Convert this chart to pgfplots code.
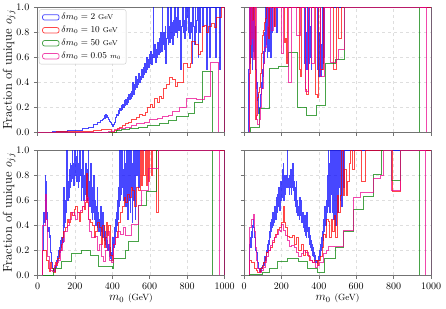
\documentclass[border=0pt]{standalone}
\usepackage{pgfplots}
\pgfplotsset{compat=1.18}
\definecolor{mgreen}{rgb}{0,0.5,0}
\definecolor{spine}{gray}{0.45}
\pgfplotsset{
  panel/.style={
    scale only axis, width=187pt, height=124.5pt,
    xmin=0, xmax=1000, ymin=0, ymax=1,
    xtick={0,200,400,600,800,1000}, ytick={0,0.2,0.4,0.6,0.8,1},
    tick align=outside, tick pos=left, major tick length=3.5pt,
    grid=major, grid style={dashed, black!13, line width=0.4pt},
    axis line style={spine, line width=0.8pt},
    every tick/.style={spine, line width=0.6pt},
    tick label style={font=\fontsize{10}{12}\selectfont},
    xticklabel style={yshift=-1.2pt,/pgf/number format/.cd, 1000 sep={}},
    yticklabel style={xshift=-1.2pt,/pgf/number format/.cd, fixed, fixed zerofill, precision=1},
    every axis y label/.style={at={(axis description cs:-0.152,0.5)}, rotate=90, anchor=center, font=\fontsize{12.8}{15}\selectfont},
    every axis x label/.style={at={(axis description cs:0.5,-0.19)}, anchor=center, font=\fontsize{12}{14}\selectfont},
  },
  cb/.style={const plot mark left, no marks, color=blue, opacity=0.72, line width=0.75pt},
  cr/.style={const plot mark left, no marks, color=red, opacity=0.72, line width=0.75pt},
  cg/.style={const plot mark left, no marks, color=mgreen, opacity=0.72, line width=0.75pt},
  cm/.style={const plot mark left, no marks, color=magenta, opacity=0.72, line width=0.75pt},
}
\newcommand{\ylab}{Fraction of unique $o_{jj}$}
\newcommand{\xlab}{$m_0$ {\fontsize{9}{10}\selectfont (GeV)}}
\begin{document}
\begin{tikzpicture}
\useasboundingbox (0,0) rectangle (446pt,308pt);
% ---------------- top left ----------------
\begin{axis}[panel, at={(37.5pt,176pt)}, anchor=south west, xticklabels={}, ylabel={\ylab},
  legend cell align=left,
  legend image code/.code={\draw[#1, fill=white] (0pt,-2.6pt) rectangle (16.5pt,2.8pt);},
  legend style={at={(axis description cs:0.008,0.985)}, anchor=north west, draw=black!22, rounded corners=2pt,
    fill=white, fill opacity=0.85, text opacity=1, font=\fontsize{9}{10}\selectfont, row sep=1.2pt,
    inner xsep=3pt, inner ysep=2pt}]
\addplot[cb] coordinates {(0,0)(40,0.001)(80,0.003)(120,0.006)(160,0.01)(200,0.017)(240,0.027)(270,0.04)(300,0.058)(320,0.075)(335,0.09)(345,0.1)(350,0.11)(355,0.12)(358,0.13)(361,0.11)(364,0.14)(367,0.12)(370,0.13)(374,0.115)(378,0.105)(382,0.095)(386,0.085)(390,0.075)(394,0.065)(398,0.055)(402,0.048)(406,0.06)(410,0.08)(414,0.1)(418,0.12)(422,0.14)(426,0.13)(430,0.17)(434,0.15)(438,0.19)(442,0.17)(446,0.21)(450,0.18)(454,0.22)(458,0.2)(462,0.25)(466,0.21)(470,0.26)(474,0.22)(478,0.28)(482,0.24)(486,0.3)(490,0.26)(494,0.31)(498,0.27)(502,0.33)(506,0.29)(510,0.4)(514,0.3)(518,0.38)(522,0.34)(526,0.45)(530,0.36)(534,0.42)(538,0.38)(542,0.47)(546,0.4)(550,0.45)(554,0.42)(558,0.5)(562,0.44)(566,0.52)(570,0.46)(574,0.55)(578,0.48)(582,0.6)(586,0.5)(590,0.58)(594,0.52)(598,0.62)(602,0.55)(606,0.65)(610,0.54)(614,0.62)(618,1.0)(622,0.6)(626,0.7)(630,0.56)(634,0.66)(638,0.6)(642,0.72)(646,0.62)(650,0.75)(654,0.64)(658,0.8)(662,0.65)(666,1.0)(670,0.7)(674,0.8)(678,0.66)(682,0.85)(686,0.55)(690,0.75)(694,1.0)(698,0.7)(702,0.85)(706,0.72)(710,1.0)(714,0.75)(718,0.88)(722,0.7)(726,0.9)(730,0.78)(734,1.0)(738,0.8)(742,0.92)(746,0.76)(750,1.0)(754,0.82)(758,0.9)(762,0.72)(766,0.5)(770,0.85)(774,1.0)(778,0.8)(782,0.9)(786,0.75)(790,1.0)(794,0.82)(798,0.92)(802,1.0)(806,0.8)(810,1.0)(814,0.75)(818,0.88)(822,0.8)(826,0.55)(830,1.0)(834,0.85)(838,0.7)(842,1.0)(846,0.8)(850,0.9)(854,1.0)(858,0.6)(862,1.0)(866,0.8)(870,1.0)(880,0.85)(885,1.0)(905,0.5)(910,1.0)(918,0.6)(922,1.0)(950,0.6)(955,1.0)(975,0.5)(978,1.0)(1000,0)};
\addlegendentry{$\delta m_0 = 2$ {\fontsize{7}{8}\selectfont GeV}}
\addplot[cr] coordinates {(0,0)(100,0.002)(200,0.006)(300,0.012)(340,0.02)(370,0.025)(395,0.0)(410,0.01)(425,0.03)(440,0.04)(455,0.05)(470,0.07)(485,0.08)(500,0.1)(515,0.1)(530,0.12)(545,0.14)(560,0.13)(575,0.16)(590,0.2)(605,0.22)(615,0.2)(625,0.27)(640,0.24)(650,0.29)(665,0.27)(675,0.35)(690,0.38)(705,0.44)(720,0.42)(735,0.37)(750,0.4)(765,0.4)(780,0.55)(800,0.52)(815,0.55)(825,0.73)(845,0.7)(858,0.62)(870,0.65)(880,0.85)(895,0.86)(905,0.8)(915,0.85)(930,0.87)(945,0.84)(955,0.92)(985,1.0)(1000,0)};
\addlegendentry{$\delta m_0 = 10$ {\fontsize{7}{8}\selectfont GeV}}
\addplot[cg] coordinates {(0,0)(400,0.0)(420,0.01)(450,0.02)(490,0.03)(540,0.04)(590,0.05)(650,0.07)(700,0.09)(743,0.128)(805,0.15)(839,0.235)(884,0.49)(937,0)};
\addlegendentry{$\delta m_0 = 50$ {\fontsize{7}{8}\selectfont GeV}}
\addplot[cm] coordinates {(0,0)(380,0.005)(410,0.02)(440,0.03)(470,0.04)(500,0.05)(530,0.07)(570,0.08)(600,0.1)(640,0.11)(670,0.125)(700,0.13)(722,0.165)(758,0.2)(794,0.27)(848,0.26)(892,0.29)(922,0.56)(968,0)};
\addlegendentry{$\delta m_0 = 0.05$ {\fontsize{7}{8}\selectfont $m_0$}}
\end{axis}
% ---------------- top right ----------------
\begin{axis}[panel, at={(244pt,176pt)}, anchor=south west, xticklabels={}, yticklabels={}]
\addplot[cb] coordinates {(25,0)(25,0.5)(28,1.0)(31,0.55)(34,1.0)(37,0.6)(40,1.0)(43,0.5)(46,0.9)(49,0.65)(52,1.0)(55,0.6)(58,0.85)(61,0.5)(64,0.35)(67,0.4)(70,0.25)(73,0.3)(76,0.2)(79,0.15)(82,0.2)(85,0.25)(88,0.3)(91,0.4)(94,0.35)(97,0.5)(100,0.45)(103,0.65)(106,0.55)(109,0.8)(112,0.65)(115,1.0)(118,0.7)(121,0.9)(124,0.6)(127,1.0)(130,0.65)(133,1.0)(136,0.75)(139,1.0)(142,0.6)(145,1.0)(148,0.8)(151,1.0)(160,0.85)(163,1.0)(175,0.8)(178,1.0)(322,0.55)(325,1.0)(328,0.5)(331,0.8)(334,0.6)(337,1.0)(340,0.5)(343,0.9)(346,0.55)(349,1.0)(352,0.6)(355,0.85)(358,0.5)(361,1.0)(392,0.5)(395,1.0)(398,0.45)(401,0.8)(404,0.5)(407,1.0)(410,0.45)(413,0.7)(416,0.5)(419,1.0)(422,0.55)(425,1.0)(428,0.6)(431,1.0)(1000,0)};
\addplot[cr] coordinates {(28,0)(28,0.47)(33,1.0)(45,0.9)(50,1.0)(62,0.1)(68,0.13)(72,0.28)(78,0.32)(82,0.36)(87,0.47)(92,0.63)(97,0.78)(102,0.82)(108,0.88)(114,0.91)(120,1.0)(130,0.75)(135,1.0)(160,0.85)(166,1.0)(215,0.72)(222,0.75)(228,0.55)(234,1.0)(296,0.5)(302,0.45)(308,1.0)(326,0.34)(335,0.3)(344,1.0)(380,0.3)(390,0.28)(397,1.0)(406,0.5)(424,1.0)(478,0.5)(492,1.0)(504,0.75)(522,1.0)(1000,0)};
\addplot[cg] coordinates {(32,0)(32,0.04)(82,0.19)(135,0.51)(184,0.53)(237,0.64)(285,0.2)(335,0.13)(389,0.21)(433,0.55)(487,0.58)(535,1.0)(939,0)};
\addplot[cm] coordinates {(28,0)(28,1.0)(36,0.7)(40,1.0)(44,0.75)(48,0.9)(52,0.58)(58,1.0)(64,0.55)(68,0.1)(72,0.06)(80,0.1)(88,0.2)(95,0.35)(103,0.55)(110,0.68)(118,0.78)(125,0.85)(132,1.0)(148,0.82)(157,1.0)(200,0.63)(212,1.0)(237,0.4)(255,1.0)(282,0.78)(300,1.0)(326,0.33)(344,1.0)(360,0.55)(375,1.0)(410,0.45)(430,1.0)(460,0.56)(495,0.58)(504,0.66)(535,1.0)(974,0)};
\end{axis}
% ---------------- bottom left ----------------
\begin{axis}[panel, at={(37.5pt,33pt)}, anchor=south west, ylabel={\ylab}, xlabel={\xlab}]
\addplot[cb] coordinates {(28,0)(28,0.2)(31,0.45)(34,0.5)(37,0.42)(40,0.8)(43,0.5)(46,0.75)(49,0.45)(52,0.5)(55,0.35)(58,0.38)(61,0.3)(64,0.32)(67,0.25)(70,0.18)(73,0.12)(76,0.1)(79,0.07)(82,0.05)(85,0.04)(88,0.06)(91,0.03)(94,0.08)(97,0.06)(100,0.12)(103,0.09)(106,0.15)(109,0.12)(112,0.2)(115,0.15)(118,0.22)(121,0.18)(124,0.28)(127,0.22)(130,0.3)(133,0.26)(136,0.4)(139,0.7)(142,0.38)(145,0.55)(148,0.42)(151,0.6)(154,0.5)(157,1.0)(160,0.6)(163,0.75)(166,0.62)(169,0.85)(172,0.7)(175,0.9)(178,0.75)(181,0.88)(184,1.0)(187,0.78)(190,0.9)(193,0.72)(196,0.85)(199,1.0)(202,0.8)(205,0.95)(208,0.75)(211,1.0)(214,0.82)(217,0.7)(220,0.9)(223,0.75)(226,1.0)(229,0.8)(232,0.6)(235,0.85)(238,0.7)(241,1.0)(244,0.75)(247,0.6)(250,0.8)(253,0.65)(256,0.9)(259,0.72)(262,0.6)(265,0.85)(268,0.7)(271,1.0)(274,0.6)(277,0.75)(280,0.55)(283,0.9)(286,0.5)(289,0.7)(292,0.45)(295,0.65)(298,0.5)(301,0.8)(304,0.45)(307,0.6)(310,0.4)(313,0.55)(316,0.4)(319,0.7)(322,0.38)(325,0.5)(328,0.35)(331,0.45)(334,0.32)(337,0.55)(340,0.35)(343,0.42)(346,0.3)(349,0.5)(352,0.3)(355,0.4)(358,0.28)(361,0.35)(364,0.25)(367,0.3)(370,0.22)(373,0.28)(376,0.2)(379,0.25)(382,0.15)(385,0.22)(388,0.13)(391,0.18)(394,0.12)(397,0.16)(400,0.2)(403,0.3)(406,0.22)(409,0.38)(412,0.3)(415,0.45)(418,0.35)(421,0.5)(424,0.4)(427,0.6)(430,0.45)(433,0.7)(436,0.55)(439,1.0)(442,0.6)(445,0.8)(448,0.65)(451,1.0)(454,0.7)(457,0.85)(460,0.6)(463,1.0)(466,0.65)(469,0.9)(472,0.55)(475,1.0)(478,0.7)(481,0.45)(484,0.85)(487,1.0)(490,0.6)(493,0.8)(496,0.5)(499,1.0)(502,0.7)(505,0.42)(508,0.9)(511,1.0)(514,0.6)(517,1.0)(520,0.75)(523,0.45)(526,1.0)(530,0.8)(534,1.0)(540,0.7)(545,1.0)(1000,0)};
\addplot[cr] coordinates {(28,0)(28,0.2)(49,0.12)(56,0.05)(63,0.03)(70,0.1)(76,0.05)(84,0.02)(95,0.1)(102,0.08)(108,0.13)(115,0.2)(125,0.25)(135,0.3)(140,0.35)(150,0.38)(158,0.45)(166,0.42)(174,0.5)(185,0.48)(195,0.53)(205,0.55)(215,0.5)(222,0.43)(230,0.5)(238,0.55)(248,0.53)(256,0.58)(262,0.82)(266,0.58)(272,0.45)(282,0.42)(292,0.4)(302,0.3)(312,0.35)(322,0.42)(332,0.38)(340,0.25)(348,0.4)(356,0.22)(362,0.3)(368,0.42)(374,0.32)(380,0.4)(388,0.16)(398,0.12)(405,0.25)(415,0.3)(425,0.35)(435,0.42)(445,0.5)(455,0.55)(462,0.62)(472,0.58)(480,0.65)(490,0.62)(500,0.7)(510,0.68)(520,0.55)(530,0.7)(540,0.68)(550,1.0)(556,0.72)(562,1.0)(568,0.8)(575,1.0)(580,0.72)(586,1.0)(592,0.75)(600,1.0)(610,0.8)(615,1.0)(638,0.5)(646,1.0)(1000,0)};
\addplot[cg] coordinates {(28,0)(85,0.05)(129,0.11)(183,0.17)(236,0.2)(281,0.16)(325,0.07)(398,0.05)(405,0.13)(468,0.2)(484,0.27)(537,0.56)(584,0.67)(634,1.0)(935,0)};
\addplot[cm] coordinates {(28,0)(28,0.4)(40,0.65)(48,0.45)(55,0.15)(62,0.05)(70,0.04)(80,0.03)(90,0.08)(100,0.1)(110,0.12)(120,0.2)(132,0.27)(145,0.35)(158,0.4)(170,0.45)(182,0.5)(195,0.48)(205,0.45)(215,0.5)(228,0.52)(240,0.55)(252,0.6)(262,0.62)(270,0.45)(280,0.35)(290,0.3)(305,0.31)(318,0.2)(330,0.25)(342,0.15)(352,0.11)(362,0.2)(372,0.35)(382,0.12)(395,0.1)(405,0.25)(418,0.3)(430,0.35)(445,0.33)(458,0.38)(468,0.32)(503,0.41)(537,0.56)(555,0.68)(591,0.86)(648,1.0)(970,0)};
\end{axis}
% ---------------- bottom right ----------------
\begin{axis}[panel, at={(244pt,33pt)}, anchor=south west, yticklabels={}, xlabel={\xlab}]
\addplot[cb] coordinates {(30,0)(30,0.25)(33,0.3)(36,0.22)(39,0.35)(42,0.3)(45,0.4)(48,0.45)(51,0.38)(54,0.35)(57,0.3)(60,0.25)(63,0.2)(66,0.18)(69,0.12)(72,0.1)(75,0.08)(78,0.05)(81,0.04)(84,0.03)(87,0.05)(90,0.03)(93,0.06)(96,0.05)(99,0.08)(102,0.1)(105,0.08)(108,0.12)(111,0.15)(114,0.12)(117,0.2)(120,0.18)(123,0.25)(126,0.2)(129,0.28)(132,0.25)(135,0.35)(138,0.3)(141,0.42)(144,0.35)(147,0.45)(150,0.38)(153,0.5)(156,0.4)(159,0.48)(162,0.42)(165,0.55)(168,0.45)(171,0.5)(174,0.62)(177,0.5)(180,0.65)(183,0.55)(186,0.7)(189,0.52)(192,0.6)(195,0.75)(198,0.6)(201,0.7)(204,0.85)(207,0.62)(210,0.9)(213,0.6)(216,0.8)(219,0.65)(222,0.75)(225,0.7)(228,0.8)(231,1.0)(234,0.7)(237,0.78)(240,0.65)(243,0.8)(246,0.7)(249,0.85)(252,0.65)(255,0.78)(258,0.7)(261,0.9)(264,0.68)(267,0.75)(270,0.6)(273,0.7)(276,0.55)(279,0.75)(282,0.5)(285,0.6)(288,0.48)(291,0.55)(294,0.45)(297,0.62)(300,0.48)(303,0.55)(306,0.6)(309,0.42)(312,0.5)(315,0.38)(318,0.45)(321,0.35)(324,0.48)(327,0.32)(330,0.4)(333,0.3)(336,0.5)(339,0.35)(342,0.3)(345,0.38)(348,0.25)(351,0.32)(354,0.22)(357,0.28)(360,0.2)(363,0.25)(366,0.16)(369,0.22)(372,0.15)(375,0.18)(378,0.12)(381,0.16)(384,0.1)(387,0.12)(390,0.09)(393,0.12)(396,0.15)(399,0.12)(402,0.2)(405,0.15)(408,0.25)(411,0.2)(414,0.3)(417,0.22)(420,0.35)(423,0.28)(426,0.45)(429,0.35)(432,0.55)(435,0.4)(438,0.6)(441,0.5)(444,0.8)(447,0.55)(450,1.0)(453,0.6)(456,0.9)(459,0.5)(462,1.0)(465,0.65)(468,1.0)(471,0.5)(474,0.85)(477,1.0)(480,0.45)(483,1.0)(486,0.7)(489,0.4)(492,1.0)(495,0.6)(498,1.0)(501,0.5)(504,1.0)(507,0.7)(510,1.0)(513,0.6)(516,1.0)(520,0.55)(524,1.0)(530,0.7)(535,1.0)(1000,0)};
\addplot[cr] coordinates {(30,0)(30,0.12)(40,0.1)(50,0.1)(58,0.05)(66,0.04)(74,0.02)(90,0.05)(98,0.07)(106,0.1)(114,0.14)(122,0.18)(130,0.2)(140,0.22)(150,0.26)(160,0.3)(170,0.33)(180,0.37)(190,0.38)(200,0.42)(208,0.55)(214,0.42)(222,0.38)(232,0.31)(245,0.3)(258,0.32)(268,0.25)(280,0.3)(292,0.2)(305,0.25)(318,0.16)(330,0.2)(340,0.16)(352,0.12)(365,0.1)(378,0.12)(390,0.08)(400,0.12)(410,0.15)(418,0.22)(426,0.33)(434,0.3)(442,0.45)(450,0.43)(458,0.3)(466,0.45)(474,0.35)(482,0.48)(490,0.3)(498,0.64)(506,0.5)(514,0.64)(522,1.0)(530,0.64)(538,0.85)(546,0.64)(554,0.75)(562,0.9)(570,1.0)(580,0.85)(590,1.0)(630,0.75)(648,1.0)(795,0.67)(835,1.0)(1000,0)};
\addplot[cg] coordinates {(30,0)(30,0.004)(100,0.025)(135,0.05)(180,0.11)(230,0.13)(290,0.11)(340,0.05)(390,0.025)(430,0.13)(487,0.22)(531,0.35)(584,0.53)(637,0.63)(690,0.81)(736,1.0)(786,0.76)(834,1.0)(938,0)};
\addplot[cm] coordinates {(30,0)(30,0.38)(42,0.45)(48,0.49)(54,0.35)(60,0.22)(66,0.12)(74,0.05)(82,0.02)(92,0.04)(102,0.06)(112,0.1)(122,0.15)(132,0.2)(142,0.24)(152,0.28)(162,0.3)(172,0.33)(182,0.36)(192,0.35)(202,0.41)(212,0.36)(222,0.32)(232,0.28)(242,0.23)(255,0.24)(268,0.22)(280,0.18)(292,0.15)(305,0.17)(318,0.2)(330,0.18)(342,0.15)(355,0.12)(368,0.1)(380,0.06)(392,0.08)(404,0.1)(424,0.17)(440,0.2)(451,0.23)(531,0.36)(584,0.62)(620,0.66)(690,0.78)(727,0.8)(745,1.0)(787,0.68)(834,1.0)(971,0)};
\end{axis}
\end{tikzpicture}
\end{document}
